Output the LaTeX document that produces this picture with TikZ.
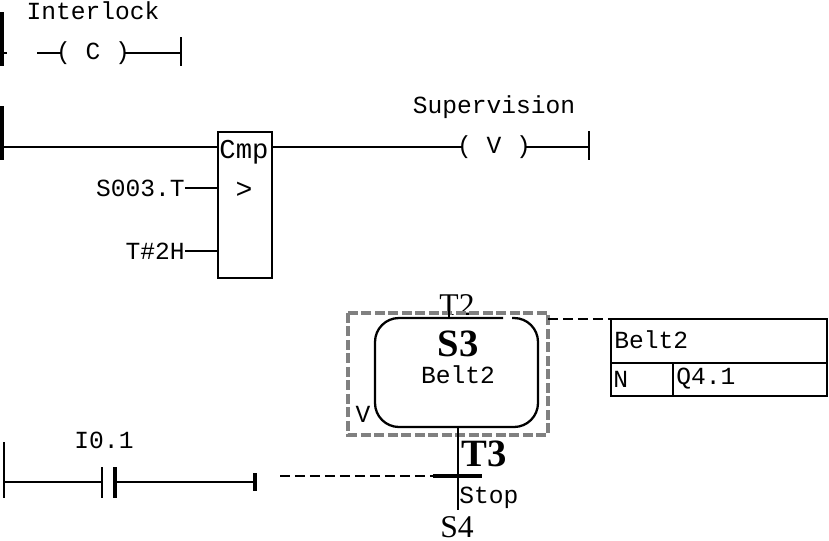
\documentclass[tikz,border=0pt]{standalone}
\usepackage{fontspec}
\setmainfont{Liberation Serif}
\setmonofont{Liberation Mono}
\usetikzlibrary{positioning}
\tikzset{
  wire/.style={line width=1.3pt},
  rail/.style={line width=2.3pt},
  dashwire/.style={line width=1.3pt, dash pattern=on 0.2cm off 0.1cm},
  lbl/.style={font=\ttfamily\fontsize{14}{14}\selectfont, inner sep=0pt},
  coil/.style={lbl, inner xsep=-3.4pt},
  bigname/.style={font=\bfseries\fontsize{22}{22}\selectfont, inner sep=0pt},
  stepname/.style={font=\fontsize{18}{18}\selectfont, inner sep=0pt},
}
\begin{document}
\begin{tikzpicture}[x=0.02cm, y=-0.02cm]
  \clip (0,0) rectangle (829,541);
  % first rung
  \node[lbl] (interlock) at (93,11) {Interlock};
  \node[coil] (coilC) at (93,53) {( C )};
  \coordinate (stubC) at (37,53);
  \coordinate (endC) at (181,53);
  \draw[rail] (2,12) -- (2,66);
  \draw[wire] (2,53) -- (7,53);
  \draw[wire] (stubC) -- (coilC) -- (endC);
  \draw[wire] (181,37) -- (181,66);
  % compare rung
  \node[draw, line width=1.5pt, minimum width=1.08cm, minimum height=2.92cm, inner sep=0pt] (cmp) at (245,205) {};
  \node[lbl, font=\ttfamily\fontsize{15.5}{15.5}\selectfont] (cmpname) at (244,152) {Cmp};
  \node[lbl, font=\ttfamily\fontsize{16}{16}\selectfont] (cmpsign) at (244,190) {>};
  \node[lbl, anchor=east] (inA) at (185,188) {S003.T};
  \node[lbl, anchor=east] (inB) at (185,251) {T\#2H};
  \node[lbl] (super) at (494,107) {Supervision};
  \node[coil] (coilV) at (494,147) {( V )};
  \coordinate (railB) at (2,147);
  \coordinate (endV) at (589,147);
  \draw[rail] (2,106) -- (2,160);
  \draw[wire] (railB) -- (cmp.west |- railB);
  \draw[wire] (cmp.east |- railB) -- (coilV) -- (endV);
  \draw[wire] (589,131) -- (589,160);
  \draw[wire] (inA.east) -- (cmp.west |- inA.east);
  \draw[wire] (inB.east) -- (cmp.west |- inB.east);
  % contact rung
  \node[lbl] (ioname) at (104,440) {I0.1};
  \coordinate (railC) at (4,482);
  \coordinate (contL) at (102,482);
  \coordinate (contR) at (115,482);
  \coordinate (endC2) at (255,482);
  \draw[wire] (4,442) -- (4,498);
  \draw[wire] (railC) -- (contL);
  \draw[wire] (102,467) -- (102,498);
  \draw[rail] (115,467) -- (115,498);
  \draw[wire] (contR) -- (endC2);
  \draw[rail] (255,473) -- (255,491);
  % step S3
  \node[stepname, anchor=base] (tprev) at (457,315) {T2};
  \draw[line width=1.9pt, gray, dash pattern=on 0.2cm off 0.07cm] (348,313) rectangle (548,435);
  \coordinate (stemtop) at (449,304);
  \coordinate (stemstep) at (449,318);
  \draw[wire] (stemtop) -- (stemstep);
  \draw[wire, rounded corners=0.48cm] (512,318) -- (538,318) -- (538,427) -- (375,427) -- (375,318) -- (503,318);
  \node[bigname] (sthree) at (458,344) {S3};
  \node[lbl] (sname) at (458,375) {Belt2};
  \node[lbl] (vmark) at (363,414) {V};
  % transition T3
  \node[bigname, anchor=west] (tthree) at (461,454) {T3};
  \node[lbl, anchor=west] (stop) at (459,498) {Stop};
  \node[stepname, anchor=base] (snext) at (457,537) {S4};
  \coordinate (barL) at (433,476);
  \coordinate (barR) at (482,476);
  \coordinate (stepbot) at (458,427);
  \coordinate (stembot) at (458,510);
  \draw[wire] (stepbot) -- (stembot);
  \draw[line width=2.8pt] (barL) -- (barR);
  \coordinate (dashstart) at (280,476);
  \draw[dashwire] (dashstart) -- (barL);
  % action box
  \node[draw, line width=1.5pt, minimum width=4.32cm, minimum height=0.88cm, inner sep=0pt] (acthead) at (719,341) {};
  \node[draw, line width=1.5pt, minimum width=1.24cm, minimum height=0.66cm, inner sep=0pt] (actq) at (642,379.5) {};
  \node[draw, line width=1.5pt, minimum width=3.08cm, minimum height=0.66cm, inner sep=0pt] (actn) at (750,379.5) {};
  \node[lbl, anchor=west] (actname) at (614,340) {Belt2};
  \node[lbl, anchor=west] (actqual) at (613,379) {N};
  \node[lbl, anchor=west] (actaddr) at (676,379) {Q4.1};
  \coordinate (dashright) at (548,319);
  \draw[dashwire] (dashright) -- (acthead.west |- dashright);
\end{tikzpicture}
\end{document}
